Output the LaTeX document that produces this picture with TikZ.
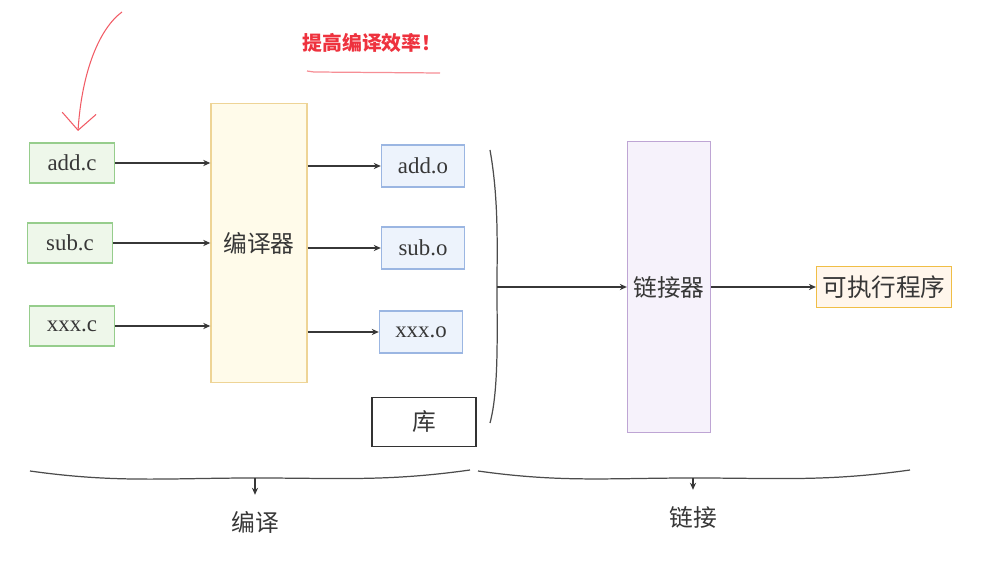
\documentclass[tikz,border=0pt]{standalone}
\usepackage{fontspec}
\setmainfont{Liberation Serif}
\newfontfamily\cjk{Noto Sans CJK SC}
\usetikzlibrary{positioning,arrows.meta}

\definecolor{srcline}{RGB}{150,205,140}
\definecolor{srcfill}{RGB}{238,247,234}
\definecolor{ccline}{RGB}{238,212,150}
\definecolor{ccfill}{RGB}{255,251,234}
\definecolor{objline}{RGB}{155,182,226}
\definecolor{objfill}{RGB}{237,243,252}
\definecolor{ldline}{RGB}{190,165,212}
\definecolor{ldfill}{RGB}{246,242,251}
\definecolor{exeline}{RGB}{240,190,70}
\definecolor{exefill}{RGB}{255,246,236}
\definecolor{ink}{RGB}{55,55,55}
\definecolor{note}{RGB}{238,50,62}

\begin{document}
\begin{tikzpicture}[
        x=0.2mm, y=-0.2mm,
        font=\fontsize{13}{15}\selectfont,
        file/.style={
            draw, line width=0.8pt, text=ink,
            minimum width=17mm, minimum height=8mm, inner sep=2pt
        },
        src/.style={file, draw=srcline, fill=srcfill},
        obj/.style={file, draw=objline, fill=objfill, minimum width=16.6mm, minimum height=8.4mm},
        tool/.style={draw, line width=0.8pt, text=ink, font=\cjk\fontsize{13.5}{15}\selectfont},
        stage/.style={text=ink, font=\cjk\fontsize{13.5}{15}\selectfont},
        ar/.style={-{Stealth[length=4pt,width=3.5pt]}, line width=0.7pt, ink},
        brace/.style={line width=0.7pt, black!70}
    ]
    \useasboundingbox (0,0) rectangle (998,564);

    %% ---- source files and compiler ----
    \node[src] (addc) at (72,163) {add.c};
    \node[src] (subc) at (70,243) {sub.c};
    \node[src] (xxxc) at (72,326) {xxx.c};

    \node[tool, draw=ccline, fill=ccfill, minimum width=19.2mm, minimum height=55.8mm]
        (cc) at (259,243) {编译器};

    \draw[ar] (addc.east) -- (addc.east -| cc.west);
    \draw[ar] (subc.east) -- (subc.east -| cc.west);
    \draw[ar] (xxxc.east) -- (xxxc.east -| cc.west);

    %% ---- object files and library ----
    \node[obj] (addo) at (423,166) {add.o};
    \node[obj] (subo) at (423,248) {sub.o};
    \node[obj] (xxxo) at (421,332) {xxx.o};
    \node[tool, draw=black!80, minimum width=20.8mm, minimum height=9.8mm] (lib) at (424,422) {库};

    \draw[ar] (addo.west -| cc.east) -- (addo.west);
    \draw[ar] (subo.west -| cc.east) -- (subo.west);
    \draw[ar] (xxxo.west -| cc.east) -- (xxxo.west);

    %% ---- linker and output ----
    \coordinate (brk) at (497,287);
    \draw[brace] (490,150) .. controls (499,200) and (497,250) .. (brk)
                 .. controls (497,330) and (499,390) .. (490,423);

    \node[tool, draw=ldline, fill=ldfill, minimum width=16.4mm, minimum height=58.2mm]
        (ld) at (669,287) {链接器};
    \node[tool, draw=exeline, fill=exefill, minimum width=26.2mm, minimum height=8.2mm,
          font=\cjk\fontsize{14}{16}\selectfont] (exe) at (884,287) {可执行程序};

    \draw[ar] (brk) -- (ld.west);
    \draw[ar] (ld.east) -- (exe.west);

    %% ---- stage braces ----
    \coordinate (cmid) at (255,478);
    \coordinate (lmid) at (693,478);
    \draw[brace] (30,471) to[out=-8,in=180] (cmid) to[out=0,in=188] (470,470);
    \draw[brace] (478,471) to[out=-8,in=180] (lmid) to[out=0,in=188] (910,470);

    \node[stage] (ctext) at (255,522) {编译};
    \node[stage] (ltext) at (693,517) {链接};
    \draw[ar] (cmid) -- ([yshift=2mm]ctext.north);
    \draw[ar] (lmid) -- ([yshift=2mm]ltext.north);

    %% ---- note ----
    \node[text=note, font=\cjk\bfseries\fontsize{11.3}{13}\selectfont] (tip) at (372,43) {提高编译效率！};
    \draw[note!55, line width=0.7pt] (307,71) -- (314,72) -- (440,73);
    \draw[note!80, line width=0.6pt, -{Straight Barb[length=3.4mm,width=6.8mm]}]
        (122,12) .. controls (100,28) and (82,70) .. (78,131);
\end{tikzpicture}
\end{document}
